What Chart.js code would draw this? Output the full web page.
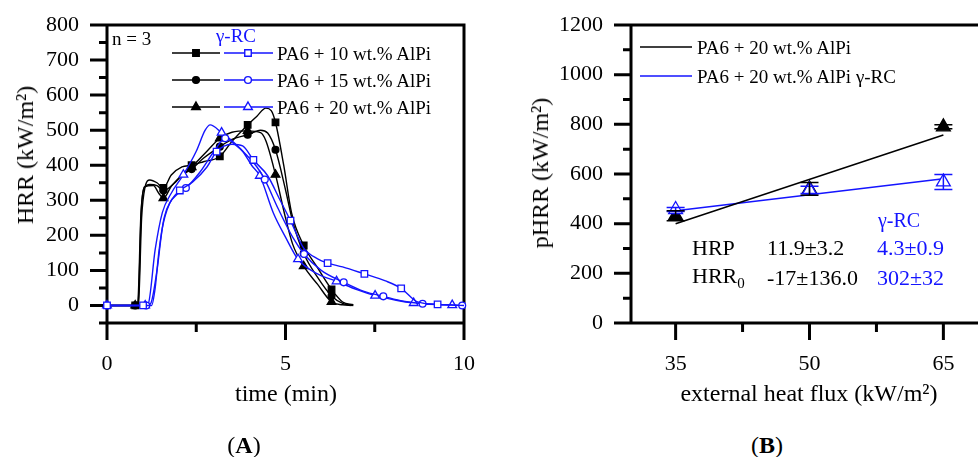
<!DOCTYPE html>
<html lang="en">
<head>
<meta charset="utf-8">
<title>HRR and pHRR</title>
<script src="https://cdn.jsdelivr.net/npm/chart.js@4.4.0/dist/chart.umd.min.js"></script>
<style>
  html, body { margin: 0; padding: 0; width: 978px; height: 457px; overflow: hidden; background: #fff; }
  body { position: relative; font-family: 'Liberation Serif', 'Times New Roman', serif; color: #000; }
  canvas { position: absolute; top: 0; }
  .t { position: absolute; white-space: nowrap; line-height: 1; }
  .c { transform: translate(-50%, -50%); }
  .l { transform: translate(0, -50%); }
  .v { transform: translate(-50%, -50%) rotate(-90deg); }
  .blue { color: #1414ff; }
</style>
</head>
<body>
<canvas id="chartA" width="490" height="400" style="left:0"></canvas>
<canvas id="chartB" width="520" height="400" style="left:500px"></canvas>

<!-- panel A texts -->
<div class="t v" style="left:25px;top:155px;font-size:24px">HRR (kW/m²)</div>
<div class="t c" style="left:286px;top:393px;font-size:24px">time (min)</div>
<div class="t c" style="left:244px;top:445px;font-size:24px">(<b>A</b>)</div>
<div class="t l" style="left:112px;top:38px;font-size:19px">n = 3</div>
<div class="t c blue" style="left:236px;top:35px;font-size:19px">γ-RC</div>
<div class="t l" style="left:277px;top:53px;font-size:19px">PA6 + 10 wt.% AlPi</div>
<div class="t l" style="left:277px;top:80px;font-size:19px">PA6 + 15 wt.% AlPi</div>
<div class="t l" style="left:277px;top:107px;font-size:19px">PA6 + 20 wt.% AlPi</div>

<!-- panel B texts -->
<div class="t v" style="left:540px;top:173px;font-size:24px">pHRR (kW/m²)</div>
<div class="t c" style="left:809px;top:393px;font-size:24px">external heat flux (kW/m²)</div>
<div class="t c" style="left:767px;top:445px;font-size:24px">(<b>B</b>)</div>
<div class="t l" style="left:697px;top:47px;font-size:19px">PA6 + 20 wt.% AlPi</div>
<div class="t l" style="left:697px;top:76px;font-size:19px">PA6 + 20 wt.% AlPi γ-RC</div>
<div class="t l blue" style="left:878px;top:220px;font-size:20px">γ-RC</div>
<div class="t l" style="left:692px;top:248px;font-size:22px">HRP</div>
<div class="t l" style="left:767px;top:248px;font-size:22px">11.9±3.2</div>
<div class="t l blue" style="left:877px;top:248px;font-size:22px">4.3±0.9</div>
<div class="t l" style="left:692px;top:278px;font-size:22px">HRR<sub style="font-size:15px">0</sub></div>
<div class="t l" style="left:767px;top:278px;font-size:22px">-17±136.0</div>
<div class="t l blue" style="left:877px;top:278px;font-size:22px">302±32</div>

<script>
// ---------- panel A: heat release rate vs time ----------
// black = PA6 + x wt.% AlPi, blue = same with γ-RC
const tBlack10 = [0, 0.79, 0.88, 0.97, 1.06, 1.2, 1.4, 1.58, 1.8, 2.1, 2.37, 2.7, 3.16, 3.5, 3.94, 4.2, 4.45, 4.6, 4.72, 4.95, 5.17, 5.51, 5.87, 6.29, 6.6, 6.9];
const hrrBlack10 = [0, 0, 5, 250, 335, 358, 350, 335, 372, 395, 400, 410, 425, 468, 515, 540, 563, 556, 522, 400, 264, 171, 112, 46, 10, 2];
const tBlack15 = [0, 0.79, 0.86, 0.95, 1.04, 1.2, 1.4, 1.58, 1.9, 2.1, 2.37, 2.7, 3.16, 3.5, 3.94, 4.3, 4.5, 4.72, 5.0, 5.2, 5.51, 5.9, 6.29, 6.6, 6.9];
const hrrBlack15 = [0, 0, 5, 260, 335, 345, 342, 328, 350, 372, 389, 420, 453, 474, 487, 500, 492, 444, 330, 240, 148, 80, 27, 6, 0];
const tBlack20 = [0, 0.79, 0.87, 0.96, 1.05, 1.3, 1.45, 1.58, 1.8, 2.1, 2.37, 2.8, 3.16, 3.5, 3.94, 4.3, 4.45, 4.72, 5.0, 5.2, 5.51, 5.9, 6.29, 6.6, 6.85];
const hrrBlack20 = [0, 0, 5, 270, 338, 342, 320, 306, 340, 372, 395, 440, 477, 494, 498, 493, 470, 373, 250, 175, 112, 60, 10, 2, 0];

const tBlue10 = [0, 1.01, 1.25, 1.35, 1.45, 1.6, 1.8, 2.04, 2.4, 2.8, 3.07, 3.5, 3.8, 4.1, 4.5, 4.85, 5.14, 5.5, 5.9, 6.18, 6.6, 7.21, 7.8, 8.24, 8.7, 9.26, 10];
const hrrBlue10 = [0, 0, 0, 50, 150, 250, 300, 328, 352, 395, 439, 460, 455, 415, 370, 300, 242, 165, 133, 121, 110, 90, 70, 49, 10, 3, 0];
const tBlue15 = [0, 1.1, 1.22, 1.4, 1.55, 1.75, 2.0, 2.21, 2.6, 3.0, 3.31, 3.6, 3.9, 4.2, 4.42, 4.8, 5.2, 5.52, 6.0, 6.63, 7.2, 7.74, 8.3, 8.84, 9.5, 9.95];
const hrrBlue15 = [0, 0, 5, 100, 220, 290, 320, 335, 380, 440, 477, 458, 430, 395, 359, 275, 195, 147, 100, 66, 40, 26, 12, 5, 2, 0];
const tBlue20 = [0, 1.07, 1.15, 1.35, 1.55, 1.8, 2.14, 2.5, 2.75, 2.89, 3.21, 3.5, 3.8, 4.05, 4.28, 4.66, 5.0, 5.35, 5.9, 6.43, 7.0, 7.51, 8.1, 8.59, 9.2, 9.67];
const hrrBlue20 = [0, 0, 3, 160, 265, 320, 373, 440, 500, 515, 493, 470, 440, 400, 370, 264, 195, 132, 90, 69, 45, 28, 15, 7, 3, 1];

// times where a symbol is printed on the curve
const markBlack = [0.79, 1.58, 2.37, 3.16, 3.94, 4.72, 5.51, 6.29];
const markBlue10 = [0, 1.01, 2.04, 3.07, 4.1, 5.14, 6.18, 7.21, 8.24, 9.26];
const markBlue15 = [0, 1.1, 2.21, 3.31, 4.42, 5.52, 6.63, 7.74, 8.84, 9.95];
const markBlue20 = [0, 1.07, 2.14, 3.21, 4.28, 5.35, 6.43, 7.51, 8.59, 9.67];

const ticksTime = [0, 5, 10];
const minorTime = [2.5, 7.5];
const ticksHRR = [0, 100, 200, 300, 400, 500, 600, 700, 800];
const minorHRR = [-50, 50, 150, 250, 350, 450, 550, 650, 750];

// ---------- panel B: peak HRR vs external heat flux ----------
const heatFlux = [35, 50, 65];
const phrrRef = [432, 540, 790];
const phrrRefErr = [20, 26, 8];
const phrrRC = [457, 536, 568];
const phrrRCErr = [8, 15, 30];
const fitFlux = [35, 65];
const fitRef = [400, 757];
const fitRC = [452, 581];

const ticksFlux = [35, 50, 65];
const minorFlux = [42.5, 57.5];
const ticksPHRR = [0, 200, 400, 600, 800, 1000, 1200];
const minorPHRR = [100, 300, 500, 700, 900, 1100];

const BLUE = '#1414ff';
Chart.defaults.font.family = "'Liberation Serif', 'Times New Roman', serif";
Chart.defaults.color = '#000';

function pts(xs, ys) {
    return xs.map((x, i) => ({ x: x, y: ys[i] }));
}

function curve(ts, vs, marks, color, style, fill, r) {
    return {
        data: pts(ts, vs),
        borderColor: color,
        borderWidth: 1.4,
        cubicInterpolationMode: 'monotone',
        pointStyle: style,
        pointRadius: ts.map(t => marks.includes(t) ? r : 0),
        pointBackgroundColor: fill,
        pointBorderColor: color,
        pointBorderWidth: 1.3,
        clip: false
    };
}

function axis(ticks, min, max, size, isY) {
    return {
        type: 'linear',
        min: min,
        max: max,
        afterBuildTicks: s => { s.ticks = ticks.map(v => ({ value: v })); },
        afterFit: s => { if (isY) s.width = size; else s.height = size; },
        grid: { display: true, drawOnChartArea: false, drawTicks: true, tickLength: 17, color: 'rgba(0,0,0,0)' },
        border: { display: false },
        ticks: { font: { size: 22 }, color: '#000', padding: 11, autoSkip: false, maxRotation: 0,
                  callback: v => String(v) }
    };
}

// box round the plot area plus major / minor tick marks
const framePlugin = {
    id: 'frame',
    beforeDatasetsDraw(chart, args, opts) {
        const { ctx, chartArea: a, scales: { x, y } } = chart;
        ctx.save();
        ctx.strokeStyle = '#000';
        ctx.lineWidth = 3;
        ctx.beginPath();
        ctx.moveTo(a.left, a.bottom);
        ctx.lineTo(a.left, a.top);
        ctx.lineTo(a.right, a.top);
        ctx.lineTo(a.right, a.bottom);
        ctx.lineTo(a.left, a.bottom);
        ctx.closePath();
        x.ticks.forEach(t => {
            const px = x.getPixelForValue(t.value);
            ctx.moveTo(px, a.bottom); ctx.lineTo(px, a.bottom + 17);
        });
        opts.minorX.forEach(v => {
            const px = x.getPixelForValue(v);
            ctx.moveTo(px, a.bottom); ctx.lineTo(px, a.bottom + 9);
        });
        y.ticks.forEach(t => {
            const py = y.getPixelForValue(t.value);
            ctx.moveTo(a.left, py); ctx.lineTo(a.left - 17, py);
        });
        opts.minorY.forEach(v => {
            const py = y.getPixelForValue(v);
            ctx.moveTo(a.left, py); ctx.lineTo(a.left - 8, py);
        });
        ctx.stroke();
        ctx.restore();
    }
};

function drawMark(ctx, style, x, y, r) {
    ctx.beginPath();
    if (style === 'rect') {
        const h = r / Math.SQRT2;
        ctx.rect(x - h, y - h, 2 * h, 2 * h);
    } else if (style === 'circle') {
        ctx.arc(x, y, r, 0, Math.PI * 2);
    } else {
        ctx.moveTo(x, y - r);
        ctx.lineTo(x + r * 0.866, y + r * 0.5);
        ctx.lineTo(x - r * 0.866, y + r * 0.5);
        ctx.closePath();
    }
    ctx.fill();
    ctx.stroke();
}

// legend keys of panel A (text is HTML)
const keyPluginA = {
    id: 'keyA',
    afterDraw(chart) {
        const ctx = chart.ctx;
        const rows = [[53, 'rect', 4.6], [80, 'circle', 3.4], [107, 'triangle', 5]];
        ctx.save();
        ctx.lineWidth = 1.4;
        rows.forEach(([y, style, r]) => {
            ctx.strokeStyle = '#000';
            ctx.fillStyle = '#000';
            ctx.beginPath(); ctx.moveTo(172, y); ctx.lineTo(220, y); ctx.stroke();
            drawMark(ctx, style, 196, y, r);
            ctx.strokeStyle = BLUE;
            ctx.fillStyle = '#fff';
            ctx.beginPath(); ctx.moveTo(224, y); ctx.lineTo(273, y); ctx.stroke();
            drawMark(ctx, style, 248, y, r);
        });
        ctx.restore();
    }
};

new Chart(document.getElementById('chartA'), {
    type: 'line',
    data: {
        datasets: [
            curve(tBlue10, hrrBlue10, markBlue10, BLUE, 'rect', '#fff', 4.6),
            curve(tBlue15, hrrBlue15, markBlue15, BLUE, 'circle', '#fff', 3.4),
            curve(tBlue20, hrrBlue20, markBlue20, BLUE, 'triangle', '#fff', 5),
            curve(tBlack10, hrrBlack10, markBlack, '#000', 'rect', '#000', 4.6),
            curve(tBlack15, hrrBlack15, markBlack, '#000', 'circle', '#000', 3.4),
            curve(tBlack20, hrrBlack20, markBlack, '#000', 'triangle', '#000', 5)
        ]
    },
    options: {
        responsive: false,
        animation: false,
        layout: { padding: { left: 0, top: 25, right: 26, bottom: 0 } },
        plugins: { legend: { display: false }, tooltip: { enabled: false }, frame: { minorX: minorTime, minorY: minorHRR } },
        scales: {
            x: axis(ticksTime, 0, 10, 77, false),
            y: axis(ticksHRR, -50, 800, 107, true)
        }
    },
    plugins: [framePlugin, keyPluginA]
});

// error bars of panel B
const errorPlugin = {
    id: 'errbars',
    afterDatasetsDraw(chart) {
        const { ctx, scales: { x, y } } = chart;
        const sets = [[phrrRC, phrrRCErr, BLUE], [phrrRef, phrrRefErr, '#000']];
        ctx.save();
        ctx.lineWidth = 1.5;
        sets.forEach(([vals, errs, color]) => {
            ctx.strokeStyle = color;
            ctx.beginPath();
            heatFlux.forEach((f, i) => {
                const px = x.getPixelForValue(f);
                const top = y.getPixelForValue(vals[i] + errs[i]);
                const bot = y.getPixelForValue(vals[i] - errs[i]);
                ctx.moveTo(px, top); ctx.lineTo(px, bot);
                ctx.moveTo(px - 9, top); ctx.lineTo(px + 9, top);
                ctx.moveTo(px - 9, bot); ctx.lineTo(px + 9, bot);
            });
            ctx.stroke();
        });
        ctx.restore();
    }
};

const keyPluginB = {
    id: 'keyB',
    afterDraw(chart) {
        const ctx = chart.ctx;
        ctx.save();
        ctx.lineWidth = 1.5;
        ctx.strokeStyle = '#000';
        ctx.beginPath(); ctx.moveTo(140, 47); ctx.lineTo(192, 47); ctx.stroke();
        ctx.strokeStyle = BLUE;
        ctx.beginPath(); ctx.moveTo(140, 76); ctx.lineTo(192, 76); ctx.stroke();
        ctx.restore();
    }
};

new Chart(document.getElementById('chartB'), {
    type: 'line',
    data: {
        datasets: [
            { data: pts(heatFlux, phrrRC), showLine: false, order: 0, pointStyle: 'triangle', pointRadius: 8,
              pointBackgroundColor: '#fff', pointBorderColor: BLUE, pointBorderWidth: 1.3 },
            { data: pts(heatFlux, phrrRef), showLine: false, order: 1, pointStyle: 'triangle', pointRadius: 8,
              pointBackgroundColor: '#000', pointBorderColor: '#000', pointBorderWidth: 1.3 },
            { data: pts(fitFlux, fitRef), order: 2, borderColor: '#000', borderWidth: 1.5, pointRadius: 0 },
            { data: pts(fitFlux, fitRC), order: 2, borderColor: BLUE, borderWidth: 1.5, pointRadius: 0 }
        ]
    },
    options: {
        responsive: false,
        animation: false,
        layout: { padding: { left: 0, top: 25, right: 32, bottom: 0 } },
        plugins: { legend: { display: false }, tooltip: { enabled: false }, frame: { minorX: minorFlux, minorY: minorPHRR } },
        scales: {
            x: axis(ticksFlux, 30, 70, 77, false),
            y: axis(ticksPHRR, 0, 1200, 131, true)
        }
    },
    plugins: [framePlugin, errorPlugin, keyPluginB]
});
</script>
</body>
</html>
